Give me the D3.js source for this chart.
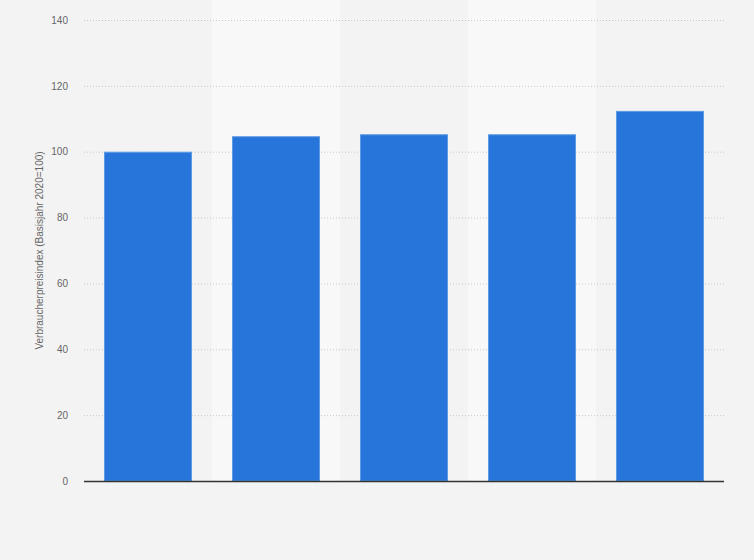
<!DOCTYPE html>
<html><head><meta charset="utf-8">
<script src="https://cdn.jsdelivr.net/npm/d3@7"></script>
<style>
html,body{margin:0;padding:0;background:#f3f3f3;}
svg{display:block;font-family:"Liberation Sans",Arial,sans-serif;}
</style></head>
<body><svg id="chart" width="754" height="560"></svg>
<script>
const categories = ["2020", "2021", "2022", "2023", "2024"];
const values = [100, 104.7, 105.3, 105.3, 112.4];
const yTicks = [0, 20, 40, 60, 80, 100, 120, 140];
const yTitle = "Verbraucherpreisindex (Basisjahr 2020=100)";

const svg = d3.select("#chart");
const W = 754, H = 560;
const m = {left: 84, right: 30, top: 20, bottom: 79};
const x = d3.scaleBand().domain(categories).range([m.left, W - m.right])
  .paddingInner(0.3125).paddingOuter(0.15625);
const y = d3.scaleLinear().domain([0, 140]).range([H - m.bottom, m.top]);

svg.append("rect").attr("width", W).attr("height", H).attr("fill", "#f3f3f3");

// alternating column bands
svg.append("g").selectAll("rect").data(categories.filter((d, i) => i % 2 === 1))
  .join("rect")
  .attr("x", d => x(d) - x.step() * x.paddingInner() / 2)
  .attr("width", x.step())
  .attr("y", 0).attr("height", y(0))
  .attr("fill", "#f8f8f8");

// grid
const yAxis = d3.axisLeft(y).tickValues(yTicks).tickSize(-(W - m.left - m.right)).tickPadding(16);
const gy = svg.append("g").attr("transform", `translate(${m.left},0)`).call(yAxis);
gy.select(".domain").remove();
gy.selectAll(".tick line").attr("stroke", "#c8c8c8").attr("stroke-dasharray", "1,2");
gy.selectAll(".tick text").attr("fill", "#666").attr("font-size", 10);

// bars
svg.append("g").selectAll("rect").data(values.map((v, i) => ({c: categories[i], v})))
  .join("rect")
  .attr("x", d => x(d.c) + 0.5)
  .attr("width", x.bandwidth() - 1)
  .attr("y", d => y(d.v) + 0.5)
  .attr("height", d => y(0) - y(d.v) - 0.5)
  .attr("fill", "#2775db")
  .attr("stroke", "#5d9ae6").attr("stroke-width", 1);

// baseline
svg.append("line").attr("x1", m.left).attr("x2", W - m.right)
  .attr("y1", y(0) + 0.5).attr("y2", y(0) + 0.5)
  .attr("stroke", "#333").attr("stroke-width", 1.5);

// y title
svg.append("text")
  .attr("transform", `translate(43,${(y(0) + y(140)) / 2}) rotate(-90)`)
  .attr("text-anchor", "middle")
  .attr("fill", "#666").attr("font-size", 10)
  .text(yTitle);
</script></body></html>
